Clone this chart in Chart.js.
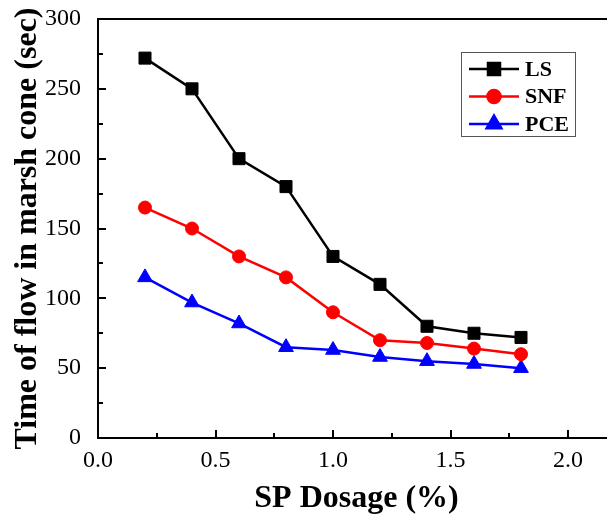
<!DOCTYPE html>
<html>
<head>
<meta charset="utf-8">
<script src="https://cdn.jsdelivr.net/npm/chart.js@4.4.0/dist/chart.umd.min.js"></script>
<style>
  html, body { margin: 0; padding: 0; background: #fff; overflow: hidden; }
  #wrap { width: 625px; height: 523px; }
</style>
</head>
<body>
<div id="wrap"><canvas id="chart" width="625" height="523"></canvas></div>
<script>
const dosage = [0.2, 0.4, 0.6, 0.8, 1.0, 1.2, 1.4, 1.6, 1.8];
const lsFlow = [272, 250, 200, 180, 130, 110, 80, 75, 72];
const snfFlow = [165, 150, 130, 115, 90, 70, 68, 64, 60];
const pceFlow = [115, 97, 82, 65, 63, 58, 55, 53, 50];
const xTicks = [0.0, 0.5, 1.0, 1.5, 2.0];
const yTicks = [0, 50, 100, 150, 200, 250, 300];

const serif = "'Liberation Serif', 'Times New Roman', serif";

const toPoints = vals => vals.map((v, i) => ({ x: dosage[i], y: v }));

// inward ticks + top/right frame
const frame = {
    id: 'frame',
    afterDraw(chart) {
        const { ctx, chartArea: a, scales } = chart;
        ctx.save();
        ctx.strokeStyle = '#000';
        ctx.lineWidth = 2;
        ctx.beginPath();
        ctx.moveTo(a.left, a.top);
        ctx.lineTo(a.right, a.top);
        ctx.lineTo(a.right, a.bottom);
        ctx.stroke();
        for (let v = 0; v <= 2.2001; v += 0.25) {
            const x = Math.round(scales.x.getPixelForValue(v));
            const len = Math.abs(v / 0.5 - Math.round(v / 0.5)) < 1e-6 ? 8 : 5;
            ctx.beginPath();
            ctx.moveTo(x, a.bottom);
            ctx.lineTo(x, a.bottom - len);
            ctx.stroke();
        }
        for (let v = 0; v <= 300; v += 25) {
            const y = Math.round(scales.y.getPixelForValue(v));
            const len = v % 50 === 0 ? 8 : 5;
            ctx.beginPath();
            ctx.moveTo(a.left, y);
            ctx.lineTo(a.left + len, y);
            ctx.stroke();
        }
        ctx.restore();
    }
};

// legend box inside the plot
const boxLegend = {
    id: 'boxLegend',
    afterDraw(chart) {
        const { ctx } = chart;
        const left = 461, top = 52, w = 114, h = 84;
        ctx.save();
        ctx.strokeStyle = '#555';
        ctx.lineWidth = 1;
        ctx.strokeRect(left + 0.5, top + 0.5, w, h);
        chart.data.datasets.forEach((ds, i) => {
            const y = top + 17 + i * 27.5;
            ctx.strokeStyle = ds.borderColor;
            ctx.lineWidth = 2.5;
            ctx.beginPath();
            ctx.moveTo(469, y);
            ctx.lineTo(519, y);
            ctx.stroke();
            ctx.fillStyle = ds.backgroundColor;
            ctx.strokeStyle = ds.borderColor;
            Chart.helpers.drawPoint(ctx, {
                pointStyle: ds.pointStyle,
                radius: ds.pointRadius,
                borderWidth: 1
            }, 494, y);
            ctx.fillStyle = '#000';
            ctx.font = 'bold 22px ' + serif;
            ctx.textBaseline = 'middle';
            ctx.fillText(ds.label, 525, y + 1);
        });
        ctx.restore();
    }
};

function series(label, data, color, style, r) {
    return {
        label: label,
        data: toPoints(data),
        borderColor: color,
        backgroundColor: color,
        pointBorderColor: color,
        pointBackgroundColor: color,
        borderWidth: 2.5,
        pointStyle: style,
        pointRadius: r,
        pointHoverRadius: r,
        pointBorderWidth: 1,
        tension: 0
    };
}

new Chart(document.getElementById('chart').getContext('2d'), {
    type: 'line',
    data: {
        datasets: [
            series('LS', lsFlow, '#000000', 'rect', 8.5),
            series('SNF', snfFlow, '#ff0000', 'circle', 6.5),
            series('PCE', pceFlow, '#0000ff', 'triangle', 8.5)
        ]
    },
    options: {
        responsive: false,
        animation: false,
        layout: { padding: { top: 19, right: 10, left: 0, bottom: 0 } },
        plugins: { legend: { display: false }, tooltip: { enabled: false } },
        scales: {
            x: {
                type: 'linear',
                min: 0,
                max: 2.2,
                afterBuildTicks: s => { s.ticks = xTicks.map(v => ({ value: v })); },
                afterFit: s => { s.height = 85; s.paddingLeft = 0; s.paddingRight = 0; },
                grid: { display: false },
                border: { display: true, color: '#000', width: 2 },
                ticks: {
                    color: '#000',
                    padding: 0,
                    font: { family: serif, size: 24 },
                    callback: v => v.toFixed(1)
                },
                title: {
                    display: true,
                    text: 'SP Dosage (%)',
                    color: '#000',
                    font: { family: serif, size: 32, weight: 'bold' },
                    padding: { top: 0, bottom: 5 }
                }
            },
            y: {
                min: 0,
                max: 300,
                afterBuildTicks: s => { s.ticks = yTicks.map(v => ({ value: v })); },
                afterFit: s => { s.width = 98; s.paddingTop = 0; s.paddingBottom = 0; },
                grid: { display: false },
                border: { display: true, color: '#000', width: 2 },
                ticks: {
                    color: '#000',
                    padding: 9,
                    font: { family: serif, size: 24 }
                },
                title: {
                    display: true,
                    text: 'Time of flow in marsh cone (sec)',
                    color: '#000',
                    font: { family: serif, size: 32, weight: 'bold' },
                    padding: { top: 9, bottom: 0 }
                }
            }
        }
    },
    plugins: [frame, boxLegend]
});
</script>
</body>
</html>
